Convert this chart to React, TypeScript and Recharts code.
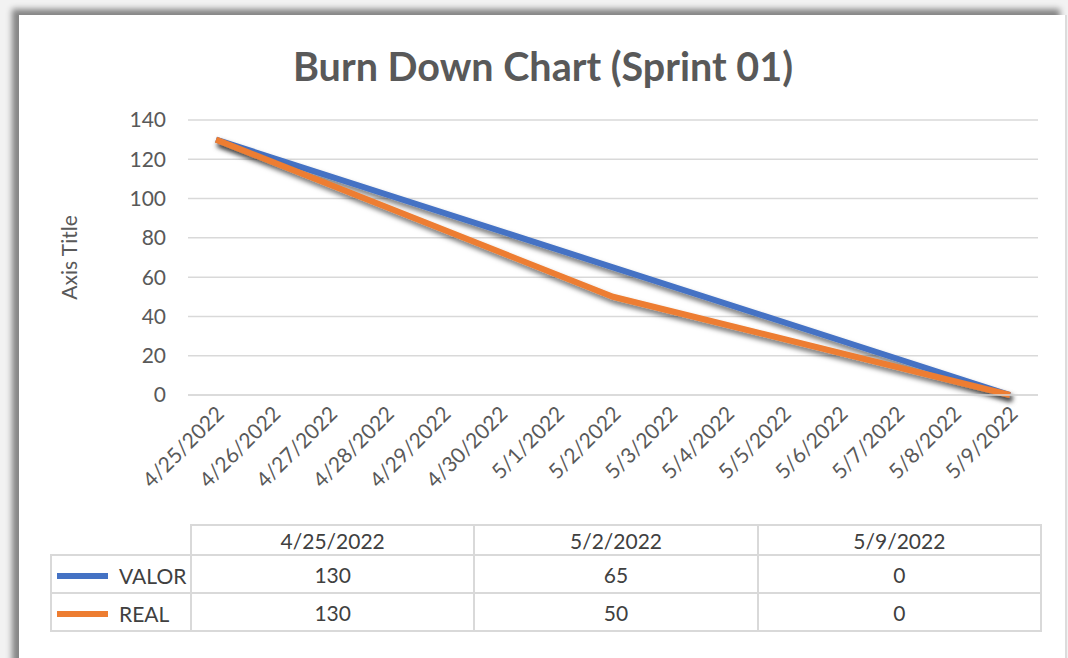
import React from "react";
import { CartesianGrid, Line, LineChart, XAxis, YAxis } from "recharts";

const days = [
  "4/25/2022",
  "4/26/2022",
  "4/27/2022",
  "4/28/2022",
  "4/29/2022",
  "4/30/2022",
  "5/1/2022",
  "5/2/2022",
  "5/3/2022",
  "5/4/2022",
  "5/5/2022",
  "5/6/2022",
  "5/7/2022",
  "5/8/2022",
  "5/9/2022",
];

// only these dates carry values (shown in the data table)
const tableDates = ["4/25/2022", "5/2/2022", "5/9/2022"];
const valor = [130, 65, 0];
const real = [130, 50, 0];

const yTicks = [0, 20, 40, 60, 80, 100, 120, 140];

const BLUE = "#4472C4";
const ORANGE = "#ED7D31";
const TEXT = "#595959";
const GRID = "#d9d9d9";
const FONT = "Lato, 'Liberation Sans', sans-serif";

const data = days.map((d) => {
  const i = tableDates.indexOf(d);
  return {
    day: d,
    valor: i >= 0 ? valor[i] : null,
    real: i >= 0 ? real[i] : null,
  };
});

function DateTick(props: any) {
  const { x, y, payload } = props;
  return (
    <g transform={`translate(${x + 5},${y + 8})`}>
      <text
        transform="rotate(-45)"
        textAnchor="end"
        fill={TEXT}
        fontSize={21}
        fontFamily={FONT}
        dy={6}
      >
        {payload.value}
      </text>
    </g>
  );
}

const cell: React.CSSProperties = {
  border: `2px solid ${GRID}`,
  textAlign: "center",
  padding: 0,
  height: 36,
  fontSize: 21,
  color: "#404040",
  fontFamily: FONT,
};

export default function App() {
  return (
    <div
      style={{
        position: "absolute",
        left: 0,
        top: 0,
        width: 1068,
        height: 658,
        background: "#f2f2f2",
        overflow: "hidden",
      }}
    >
      <div
        style={{
          position: "absolute",
          left: 19,
          top: 15,
          width: 1046,
          height: 660,
          background: "#fff",
          borderRight: "2px solid #dcdcdc",
          boxShadow: "-7px -6px 6px rgba(0,0,0,0.45)",
        }}
      />
      <div
        style={{
          position: "absolute",
          left: 0,
          top: 42,
          width: 1068,
          textAlign: "center",
          fontFamily: FONT,
          fontWeight: 700,
          fontSize: 39.5,
          color: TEXT,
          paddingLeft: 18,
          boxSizing: "border-box",
        }}
      >
        Burn Down Chart (Sprint 01)
      </div>
      <div style={{ position: "absolute", left: 0, top: 0 }}>
        <LineChart
          width={1068}
          height={505}
          data={data}
          margin={{ top: 120, right: 30, bottom: 0, left: 0 }}
        >
          <defs>
            <filter id="shadow" x="-10%" y="-10%" width="120%" height="130%">
              <feDropShadow
                dx="2"
                dy="4"
                stdDeviation="2.5"
                floodColor="#000"
                floodOpacity="0.55"
              />
            </filter>
          </defs>
          <CartesianGrid vertical={false} stroke={GRID} strokeWidth={1.5} />
          <XAxis
            dataKey="day"
            interval={0}
            height={110}
            padding={{ left: 28, right: 28 }}
            tick={<DateTick />}
            tickLine={false}
            axisLine={{ stroke: GRID, strokeWidth: 1.5 }}
          />
          <YAxis
            domain={[0, 140]}
            ticks={yTicks}
            width={188}
            tickLine={false}
            axisLine={false}
            tickSize={0}
            tickMargin={22}
            tick={{ fill: TEXT, fontSize: 21, fontFamily: FONT }}
            label={{
              value: "Axis Title",
              angle: -90,
              position: "insideLeft",
              offset: 70,
              style: {
                fill: TEXT,
                fontSize: 21,
                fontFamily: FONT,
                textAnchor: "middle",
              },
            }}
          />
          <Line
            dataKey="valor"
            stroke={BLUE}
            strokeWidth={6}
            dot={false}
            connectNulls
            filter="url(#shadow)"
            isAnimationActive={false}
          />
          <Line
            dataKey="real"
            stroke={ORANGE}
            strokeWidth={6}
            dot={false}
            connectNulls
            filter="url(#shadow)"
            isAnimationActive={false}
          />
        </LineChart>
      </div>
      <table
        style={{
          position: "absolute",
          left: 50,
          top: 524,
          width: 992,
          borderCollapse: "collapse",
          tableLayout: "fixed",
        }}
      >
        <colgroup>
          <col style={{ width: 140 }} />
          {tableDates.map((d) => (
            <col key={d} />
          ))}
        </colgroup>
        <tbody>
          <tr>
            <td
              style={{
                ...cell,
                borderTop: "none",
                borderLeft: "none",
                height: 28,
              }}
            />
            {tableDates.map((d) => (
              <td key={d} style={{ ...cell, height: 28 }}>
                {d}
              </td>
            ))}
          </tr>
          {[
            { name: "VALOR", color: BLUE, vals: valor },
            { name: "REAL", color: ORANGE, vals: real },
          ].map((s) => (
            <tr key={s.name}>
              <td style={{ ...cell, textAlign: "left" }}>
                <span
                  style={{
                    display: "inline-block",
                    width: 51,
                    height: 6,
                    background: s.color,
                    verticalAlign: "middle",
                    marginLeft: 5,
                    marginRight: 11,
                  }}
                />
                <span style={{ verticalAlign: "middle" }}>{s.name}</span>
              </td>
              {s.vals.map((v, i) => (
                <td key={i} style={cell}>
                  {v}
                </td>
              ))}
            </tr>
          ))}
        </tbody>
      </table>
    </div>
  );
}
